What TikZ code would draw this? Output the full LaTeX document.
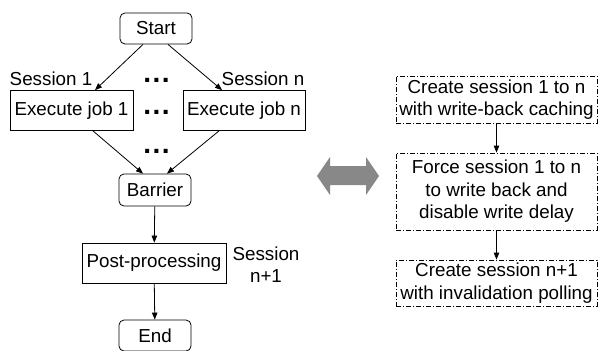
\documentclass[tikz,border=0pt]{standalone}
\usepackage{fontspec}
\setmainfont{Liberation Sans}
\usetikzlibrary{arrows.meta}
\begin{document}
\begin{tikzpicture}[x=1pt,y=-1pt,
  every node/.style={font=\fontsize{18.8}{22.5}\selectfont, inner sep=0pt},
  rbox/.style={draw, rounded corners=5pt, line width=0.8pt, minimum width=72pt},
  sbox/.style={draw, line width=0.8pt},
  dbox/.style={draw, line width=0.8pt, dash pattern=on 5pt off 2pt on 1pt off 2pt, minimum width=201pt, align=center},
  conn/.style={line width=0.8pt, -{Triangle[length=7pt,width=5.5pt]}},
  dotsrow/.style={font=\fontsize{28}{28}\selectfont\bfseries, anchor=base},
  lbl/.style={align=center}]
\useasboundingbox (0,0) rectangle (598,351);
% left flow
\node[rbox, minimum height=31pt] (start) at (156,28.5) {Start};
\node[sbox, minimum width=123pt, minimum height=40pt] (job1) at (71.5,110.5) {Execute job 1};
\node[sbox, minimum width=122pt, minimum height=40pt] (jobn) at (244,110.5) {Execute job n};
\node[rbox, minimum height=32pt] (barrier) at (155,190) {Barrier};
\node[sbox, minimum width=144pt, minimum height=40pt] (post) at (154,263) {Post-processing};
\node[rbox, minimum height=31pt] (end) at (155,335.5) {End};
\node[lbl] (s1) at (51,79) {Session 1};
\node[lbl] (sn) at (263,79) {Session n};
\node[lbl] (sn1) at (266,264.5) {Session\\n+1};
\node[dotsrow] (d1) at (156.5,82) {.\kern1.5pt.\kern1.5pt.};
\node[dotsrow] (d2) at (156.5,114) {.\kern1.5pt.\kern1.5pt.};
\node[dotsrow] (d3) at (156.5,153.5) {.\kern1.5pt.\kern1.5pt.};
\coordinate (sa) at (143,44);
\coordinate (sb) at (168,44);
\draw[conn] (start.south -| sa) -- (job1.north -| 95,0);
\draw[conn] (start.south -| sb) -- (jobn.north -| 222,0);
\draw[conn] (job1.south -| 93,0) -- (barrier.north -| 143,0);
\draw[conn] (jobn.south -| 219,0) -- (barrier.north -| 167,0);
\draw[conn] (barrier) -- (post);
\draw[conn] (post) -- (end);
% double arrow
\fill[fill={rgb,255:red,136;green,136;blue,136}] (317,176) -- (330,157) -- (330,166) -- (366,166) -- (366,157) -- (379,176) -- (366,195) -- (366,185) -- (330,185) -- (330,195) -- cycle;
% right flow
\node[dbox, minimum height=47pt] (r1) at (496.5,99.5) {Create session 1 to n\\with write-back caching};
\node[dbox, minimum height=77pt] (r2) at (496.5,191.5) {Force session 1 to n\\to write back and\\disable write delay};
\node[dbox, minimum height=46pt] (r3) at (496.5,283) {Create session n+1\\with invalidation polling};
\draw[conn] (r1) -- (r2);
\draw[conn] (r2) -- (r3);
\end{tikzpicture}
\end{document}
